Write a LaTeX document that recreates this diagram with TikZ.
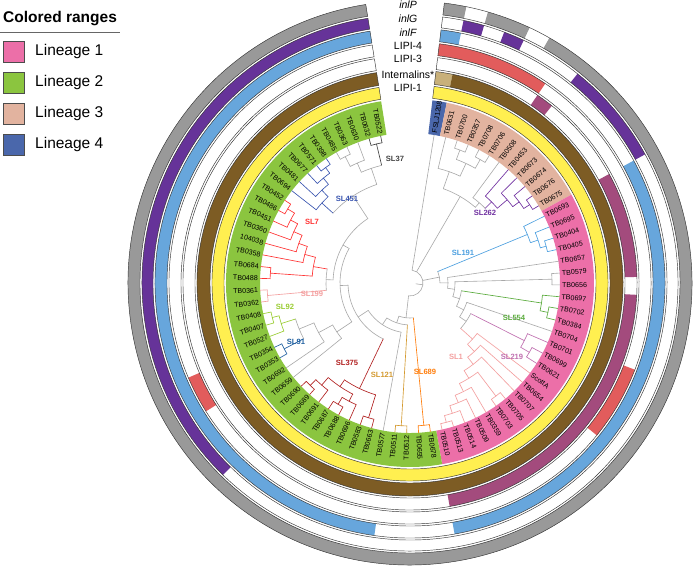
\documentclass[tikz,border=0pt]{standalone}
\usepackage{fontspec}
\setmainfont{Liberation Sans}
\definecolor{cLa}{HTML}{EC6FA8}
\definecolor{cLb}{HTML}{8BC53F}
\definecolor{cLc}{HTML}{E2B39F}
\definecolor{cLd}{HTML}{4A67AB}
\definecolor{lipiA}{HTML}{FFEF50}
\definecolor{intl}{HTML}{7D5C24}
\definecolor{intltan}{HTML}{C8B07A}
\definecolor{lipiC}{HTML}{A34B7D}
\definecolor{lipiD}{HTML}{E25C5C}
\definecolor{inlf}{HTML}{67A6DC}
\definecolor{inlg}{HTML}{663399}
\definecolor{inlp}{HTML}{999999}
\definecolor{treegray}{HTML}{A8A8A8}
\definecolor{k37}{HTML}{444444}
\definecolor{k451}{HTML}{3A55B0}
\definecolor{k7}{HTML}{FF3333}
\definecolor{k262}{HTML}{7030A0}
\definecolor{k191}{HTML}{4DA0E0}
\definecolor{k199}{HTML}{F4A0A0}
\definecolor{k92}{HTML}{9ACD32}
\definecolor{k91}{HTML}{1F5FA0}
\definecolor{k375}{HTML}{B22222}
\definecolor{k121}{HTML}{D49A30}
\definecolor{k689}{HTML}{FF7F0E}
\definecolor{k1}{HTML}{F4A0A0}
\definecolor{k219}{HTML}{C070B0}
\definecolor{k554}{HTML}{5AAB3C}
\newcommand\Sect[5]{\fill[#1] ({bd(#2)}:#4pt) arc[start angle={bd(#2)}, end angle={bd(#3)}, radius=#4pt] -- ({bd(#3)}:#5pt) arc[start angle={bd(#3)}, end angle={bd(#2)}, radius=#5pt] -- cycle;}
\newcommand\RingOut[2]{\draw[ringline] ({bd(0)}:#1pt) arc[start angle={bd(0)}, end angle={bd(76)}, radius=#1pt] -- ({bd(76)}:#2pt) arc[start angle={bd(76)}, end angle={bd(0)}, radius=#2pt] -- cycle;}
\newcommand\Br[4][tg]{\draw[#1] ({ang(#2)}:#3pt) -- ({ang(#2)}:#4pt);}
\newcommand\Ar[4][tg]{\draw[#1] ({ang(#2)}:#4pt) arc[start angle={ang(#2)}, end angle={ang(#3)}, radius=#4pt];}
\begin{document}
\begin{tikzpicture}[x=1pt,y=1pt,
  declare function={ang(\p)=80.74-4.526*\p; bd(\b)=83.003-4.526*\b;},
  ringline/.style={draw=black!80, line width=0.45pt},
  tg/.style={draw=treegray, line width=0.6pt, line cap=round},
  cl37/.style={draw=k37, line width=0.65pt, line cap=round},
  cl451/.style={draw=k451, line width=0.65pt, line cap=round},
  cl7/.style={draw=k7, line width=0.65pt, line cap=round},
  cl262/.style={draw=k262, line width=0.65pt, line cap=round},
  cl191/.style={draw=k191, line width=0.65pt, line cap=round},
  cl199/.style={draw=k199, line width=0.65pt, line cap=round},
  cl92/.style={draw=k92, line width=0.65pt, line cap=round},
  cl91/.style={draw=k91, line width=0.65pt, line cap=round},
  cl375/.style={draw=k375, line width=0.65pt, line cap=round},
  cl121/.style={draw=k121, line width=0.65pt, line cap=round},
  cl689/.style={draw=k689, line width=0.65pt, line cap=round},
  cl1/.style={draw=k1, line width=0.65pt, line cap=round},
  cl219/.style={draw=k219, line width=0.65pt, line cap=round},
  cl554/.style={draw=k554, line width=0.65pt, line cap=round},
  leaflab/.style={font=\fontsize{7.1}{8}\selectfont, inner sep=0pt, text=black},
  sllab/.style={font=\bfseries\fontsize{7.6}{9}\selectfont, inner sep=0pt},
  ringlab/.style={font=\fontsize{10.5}{12}\selectfont, inner sep=0pt},
  legtxt/.style={font=\fontsize{15.5}{18}\selectfont, inner sep=0pt, anchor=west},
  legbox/.style={draw=black!70, line width=0.8pt}
]
\useasboundingbox (0,0) rectangle (696,575);
\fill[white] (0,0) rectangle (696,575);

% legend
\node[font=\bfseries\fontsize{15.5}{18}\selectfont, inner sep=0pt, anchor=west] (legtitle) at (3,556) {Colored ranges};
\draw[black!60, line width=1pt] (0,542) -- (120,542);
\fill[cLa] (3,513) rectangle (24,534); \draw[legbox] (3,513) rectangle (24,534);
\fill[cLb] (3,482) rectangle (24,503); \draw[legbox] (3,482) rectangle (24,503);
\fill[cLc] (3,451) rectangle (24,472); \draw[legbox] (3,451) rectangle (24,472);
\fill[cLd] (3,420) rectangle (24,441); \draw[legbox] (3,420) rectangle (24,441);
\node[legtxt] (lg1) at (35,523.5) {Lineage 1};
\node[legtxt] (lg2) at (35,492.5) {Lineage 2};
\node[legtxt] (lg3) at (35,461.5) {Lineage 3};
\node[legtxt] (lg4) at (35,430.5) {Lineage 4};

\begin{scope}[shift={(410,292)}]
% lineage band
\Sect{cLd}{0}{1}{150}{184}
\Sect{cLc}{1}{12}{150}{184}
\Sect{cLa}{12}{36}{150}{184}
\Sect{cLb}{36}{76}{150}{184}
% rings
\Sect{lipiA}{0}{76}{186}{198}
\Sect{intltan}{0}{1}{200}{213}
\Sect{intl}{1}{76}{200}{213}
\Sect{lipiC}{6}{7}{215}{227}
\Sect{lipiC}{12}{18}{215}{227}
\Sect{lipiC}{19}{36}{215}{227}
\Sect{lipiD}{0}{6}{229}{241}
\Sect{lipiD}{23}{27}{229}{241}
\Sect{lipiD}{51}{53}{229}{241}
\Sect{inlf}{0}{1}{243}{255}
\Sect{inlf}{12}{36}{243}{255}
\Sect{inlf}{40}{76}{243}{255}
\Sect{inlg}{1}{2}{257}{268}
\Sect{inlg}{3}{4}{257}{268}
\Sect{inlg}{7}{12}{257}{268}
\Sect{inlg}{48}{76}{257}{268}
\Sect{inlp}{0}{1}{270}{282}
\Sect{inlp}{2}{4}{270}{282}
\Sect{inlp}{5}{76}{270}{282}
\RingOut{186}{198}
\RingOut{200}{213}
\RingOut{215}{227}
\RingOut{229}{241}
\RingOut{243}{255}
\RingOut{257}{268}
\RingOut{270}{282}

% ---- tree ----
% L4
\Br{0}{13}{150}
% L3
\Ar{2}{3}{142}\Br{2}{142}{150}\Br{3}{142}{150}
\Ar{4}{5}{142}\Br{4}{142}{150}\Br{5}{142}{150}
\Ar{2.5}{4.5}{132}\Br{2.5}{132}{142}\Br{4.5}{132}{142}
\Ar{1}{3.5}{118}\Br{1}{118}{150}\Br{3.5}{118}{132}
\Ar[cl262]{10}{11}{143}\Br[cl262]{10}{143}{150}\Br[cl262]{11}{143}{150}
\Ar[cl262]{9}{10.5}{136}\Br[cl262]{9}{136}{150}\Br[cl262]{10.5}{136}{143}
\Ar[cl262]{8}{9.75}{128}\Br[cl262]{8}{128}{150}\Br[cl262]{9.75}{128}{136}
\Ar[cl262]{7}{8.875}{115}\Br[cl262]{7}{115}{150}\Br[cl262]{8.875}{115}{128}
\Ar{6}{7.9375}{106}\Br{6}{106}{150}\Br[cl262]{7.9375}{106}{115}
\Ar{2.25}{6.96875}{100}\Br{2.25}{100}{118}\Br{6.96875}{100}{106}
\Br{4.609}{13}{100}
% L1
\Ar[cl191]{14}{15}{141}\Br[cl191]{14}{141}{150}\Br[cl191]{15}{141}{150}
\Ar[cl191]{13}{14.5}{135}\Br[cl191]{13}{135}{150}\Br[cl191]{14.5}{135}{141}
\Ar[cl191]{12}{13.75}{127}\Br[cl191]{12}{127}{150}\Br[cl191]{13.75}{127}{135}
\Br[cl191]{12.875}{30}{127}
\Ar{17}{18}{142}\Br{17}{142}{150}\Br{18}{142}{150}
\Ar[cl554]{20}{21}{141}\Br[cl554]{20}{141}{150}\Br[cl554]{21}{141}{150}
\Ar[cl554]{19}{20.5}{133}\Br[cl554]{19}{133}{150}\Br[cl554]{20.5}{133}{141}
\Br[cl554]{19.75}{52}{133}
\Ar[cl219]{24}{25}{138}\Br[cl219]{24}{138}{150}\Br[cl219]{25}{138}{150}
\Ar[cl219]{23}{24.5}{128}\Br[cl219]{23}{128}{150}\Br[cl219]{24.5}{128}{138}
\Br[cl219]{23.75}{68}{128}
\Ar[cl1]{34}{35}{144}\Br[cl1]{34}{144}{150}\Br[cl1]{35}{144}{150}
\Ar[cl1]{33}{34.5}{137}\Br[cl1]{33}{137}{150}\Br[cl1]{34.5}{137}{144}
\Ar[cl1]{32}{33.75}{129}\Br[cl1]{32}{129}{150}\Br[cl1]{33.75}{129}{137}
\Ar[cl1]{31}{32.875}{121}\Br[cl1]{31}{121}{150}\Br[cl1]{32.875}{121}{129}
\Ar[cl1]{29}{30}{142}\Br[cl1]{29}{142}{150}\Br[cl1]{30}{142}{150}
\Ar[cl1]{29.5}{31.9375}{112}\Br[cl1]{29.5}{112}{142}\Br[cl1]{31.9375}{112}{121}
\Ar[cl1]{28}{30.71875}{103}\Br[cl1]{28}{103}{150}\Br[cl1]{30.71875}{103}{112}
\Ar[cl1]{27}{29.359}{94}\Br[cl1]{27}{94}{150}\Br[cl1]{29.359}{94}{103}
\Ar[cl1]{26}{28.18}{84}\Br[cl1]{26}{84}{150}\Br[cl1]{28.18}{84}{94}
\Br[cl1]{27.09}{68}{84}
\Ar{23.75}{27.09}{68}
\Ar{22}{25.42}{60}\Br{22}{60}{150}\Br{25.42}{60}{68}
\Ar{19.75}{23.71}{52}\Br{23.71}{52}{60}
\Ar{17.5}{21.73}{45}\Br{17.5}{45}{142}\Br{21.73}{45}{52}
\Ar{16}{19.615}{38}\Br{16}{38}{150}\Br{19.615}{38}{45}
\Ar{12.875}{17.81}{30}\Br{17.81}{30}{38}
\Br{15.34}{13}{30}
% L2
\Ar[cl689]{36}{37}{143}\Br[cl689]{36}{143}{150}\Br[cl689]{37}{143}{150}
\Br[cl689]{36.5}{35}{143}
\Ar[cl121]{38}{39}{143}\Br[cl121]{38}{143}{150}\Br[cl121]{39}{143}{150}
\Br[cl121]{38.5}{42}{143}
\Br{40}{50}{150}
\Ar[cl375]{41}{42}{141}\Br[cl375]{41}{141}{150}\Br[cl375]{42}{141}{150}
\Ar[cl375]{47}{48}{143}\Br[cl375]{47}{143}{150}\Br[cl375]{48}{143}{150}
\Ar[cl375]{46}{47.5}{135}\Br[cl375]{46}{135}{150}\Br[cl375]{47.5}{135}{143}
\Ar[cl375]{44}{45}{141}\Br[cl375]{44}{141}{150}\Br[cl375]{45}{141}{150}
\Ar[cl375]{43}{44.5}{133}\Br[cl375]{43}{133}{150}\Br[cl375]{44.5}{133}{141}
\Ar[cl375]{43.75}{46.75}{125}\Br[cl375]{43.75}{125}{133}\Br[cl375]{46.75}{125}{135}
\Ar[cl375]{41.5}{45.25}{117}\Br[cl375]{41.5}{117}{141}\Br[cl375]{45.25}{117}{125}
\Br[cl375]{43.375}{62}{117}
\Ar[cl91]{51}{52}{142}\Br[cl91]{51}{142}{150}\Br[cl91]{52}{142}{150}
\Br[cl91]{51.5}{120}{142}
\Ar[cl92]{54}{55}{142}\Br[cl92]{54}{142}{150}\Br[cl92]{55}{142}{150}
\Ar[cl92]{53}{54.5}{135}\Br[cl92]{53}{135}{150}\Br[cl92]{54.5}{135}{142}
\Br[cl92]{53.75}{120}{135}
\Ar{51.5}{53.75}{120}
\Ar{50}{52.625}{104}\Br{50}{104}{150}\Br{52.625}{104}{120}
\Ar{49}{51.3125}{88}\Br{49}{88}{150}\Br{51.3125}{88}{104}
\Ar[cl199]{56}{57}{143}\Br[cl199]{56}{143}{150}\Br[cl199]{57}{143}{150}
\Br[cl199]{56.5}{84}{143}
\Ar[cl7]{64}{65}{143}\Br[cl7]{64}{143}{150}\Br[cl7]{65}{143}{150}
\Ar[cl7]{63}{64.5}{135}\Br[cl7]{63}{135}{150}\Br[cl7]{64.5}{135}{143}
\Ar[cl7]{62}{63.75}{127}\Br[cl7]{62}{127}{150}\Br[cl7]{63.75}{127}{135}
\Ar[cl7]{61}{62.875}{118}\Br[cl7]{61}{118}{150}\Br[cl7]{62.875}{118}{127}
\Ar[cl7]{60}{61.9375}{109}\Br[cl7]{60}{109}{150}\Br[cl7]{61.9375}{109}{118}
\Ar[cl7]{58}{59}{140}\Br[cl7]{58}{140}{150}\Br[cl7]{59}{140}{150}
\Ar[cl7]{58.5}{60.96875}{98}\Br[cl7]{58.5}{98}{140}\Br[cl7]{60.96875}{98}{109}
\Br[cl7]{59.734}{84}{98}
\Ar{56.5}{59.734}{84}
\Ar[cl451]{69}{70}{143}\Br[cl451]{69}{143}{150}\Br[cl451]{70}{143}{150}
\Ar[cl451]{68}{69.5}{136}\Br[cl451]{68}{136}{150}\Br[cl451]{69.5}{136}{143}
\Ar[cl451]{67}{68.75}{128}\Br[cl451]{67}{128}{150}\Br[cl451]{68.75}{128}{136}
\Ar[cl451]{66}{67.875}{119}\Br[cl451]{66}{119}{150}\Br[cl451]{67.875}{119}{128}
\Br[cl451]{66.9375}{104}{119}
\Ar{71}{72}{142}\Br{71}{142}{150}\Br{72}{142}{150}
\Ar{71.5}{73}{131}\Br{73}{131}{150}\Br{71.5}{131}{142}
\Ar[cl37]{74}{75}{143}\Br[cl37]{74}{143}{150}\Br[cl37]{75}{143}{150}
\Br[cl37]{74.5}{121}{143}
\Ar{72.25}{74.5}{121}\Br{72.25}{121}{131}
\Ar{66.9375}{73.375}{104}\Br{73.375}{104}{121}
\Ar{58.117}{70.156}{77}\Br{58.117}{77}{84}\Br{70.156}{77}{104}
\Ar{50.156}{64.137}{70}\Br{50.156}{70}{88}\Br{64.137}{70}{77}
\Ar{43.375}{57.146}{62}\Br{57.146}{62}{70}
\Ar{40}{50.26}{50}\Br{50.26}{50}{62}
\Ar{38.5}{45.13}{42}\Br{45.13}{42}{50}
\Ar{36.5}{41.815}{35}\Br{41.815}{35}{42}
\Br{39.16}{13}{35}
% root
\Ar{0}{39.16}{13}
\Br{19.58}{6}{13}

% leaf labels
\foreach \i/\t in {0/FSLJ1208,1/TB0631,2/TB0700,3/TB0357,4/TB0708,5/TB0706,6/TB0508,7/TB0453,8/TB0673,9/TB0674,10/TB0676,11/TB0675,12/TB0693,13/TB0695,14/TB0404,15/TB0405,16/TB0657,17/TB0579,18/TB0656,19/TB0697,20/TB0702,21/TB0384,22/TB0704,23/TB0701,24/TB0699,25/TB0621,26/ScottA,27/TB0654,28/TB0707,29/TB0705,30/TB0703,31/TB0359,32/TB0509,33/TB0514,34/TB0513,35/TB0510,36/TB0678,37/TB0655}{
  \node[leaflab, anchor=west, rotate={ang(\i)}] (lf\i) at ({ang(\i)}:152pt) {\t};
}
\foreach \i/\t in {38/TB0512,39/TB0511,40/TB0577,41/TB0663,42/TB0583,43/TB0696,44/TB0688,45/TB0687,46/TB0691,47/TB0689,48/TB0690,49/TB0659,50/TB0692,51/TB0353,52/TB0354,53/TB0527,54/TB0407,55/TB0408,56/TB0362,57/TB0361,58/TB0488,59/TB0684,60/TB0358,61/104038,62/TB0360,63/TB0451,64/TB0486,65/TB0452,66/TB0694,67/TB0481,68/TB0677,69/TB0571,70/TB0398,71/TB0485,72/TB0363,73/TB0630,74/TB0632,75/TB0522}{
  \node[leaflab, anchor=east, rotate={ang(\i)+180}] (lf\i) at ({ang(\i)}:152pt) {\t};
}
\end{scope}

% clade labels
\node[sllab, text=k37] (t37) at (395,416) {SL37};
\node[sllab, text=k451] (t451) at (347,376) {SL451};
\node[sllab, text=k7] (t7) at (312,353) {SL7};
\node[sllab, text=k262] (t262) at (485,362) {SL262};
\node[sllab, text=k191] (t191) at (463,322) {SL191};
\node[sllab, text=k199] (t199) at (312,281) {SL199};
\node[sllab, text=k92] (t92) at (285,268) {SL92};
\node[sllab, text=k91] (t91) at (296,233) {SL91};
\node[sllab, text=k375] (t375) at (347,212) {SL375};
\node[sllab, text=k121] (t121) at (382,200) {SL121};
\node[sllab, text=k689] (t689) at (425,203) {SL689};
\node[sllab, text=k1] (t1) at (456,218) {SL1};
\node[sllab, text=k219] (t219) at (512,218) {SL219};
\node[sllab, text=k554] (t554) at (514,257) {SL554};

% ring labels
\node[ringlab] (rinlp) at (408,570) {\itshape inlP};
\node[ringlab] (rinlg) at (408,556) {\itshape inlG};
\node[ringlab] (rinlf) at (408,542) {\itshape inlF};
\node[ringlab] (rl4) at (408,529) {LIPI-4};
\node[ringlab] (rl3) at (408,516) {LIPI-3};
\node[ringlab] (rint) at (408,500) {Internalins*};
\node[ringlab] (rl1) at (408,487) {LIPI-1};
\end{tikzpicture}
\end{document}
